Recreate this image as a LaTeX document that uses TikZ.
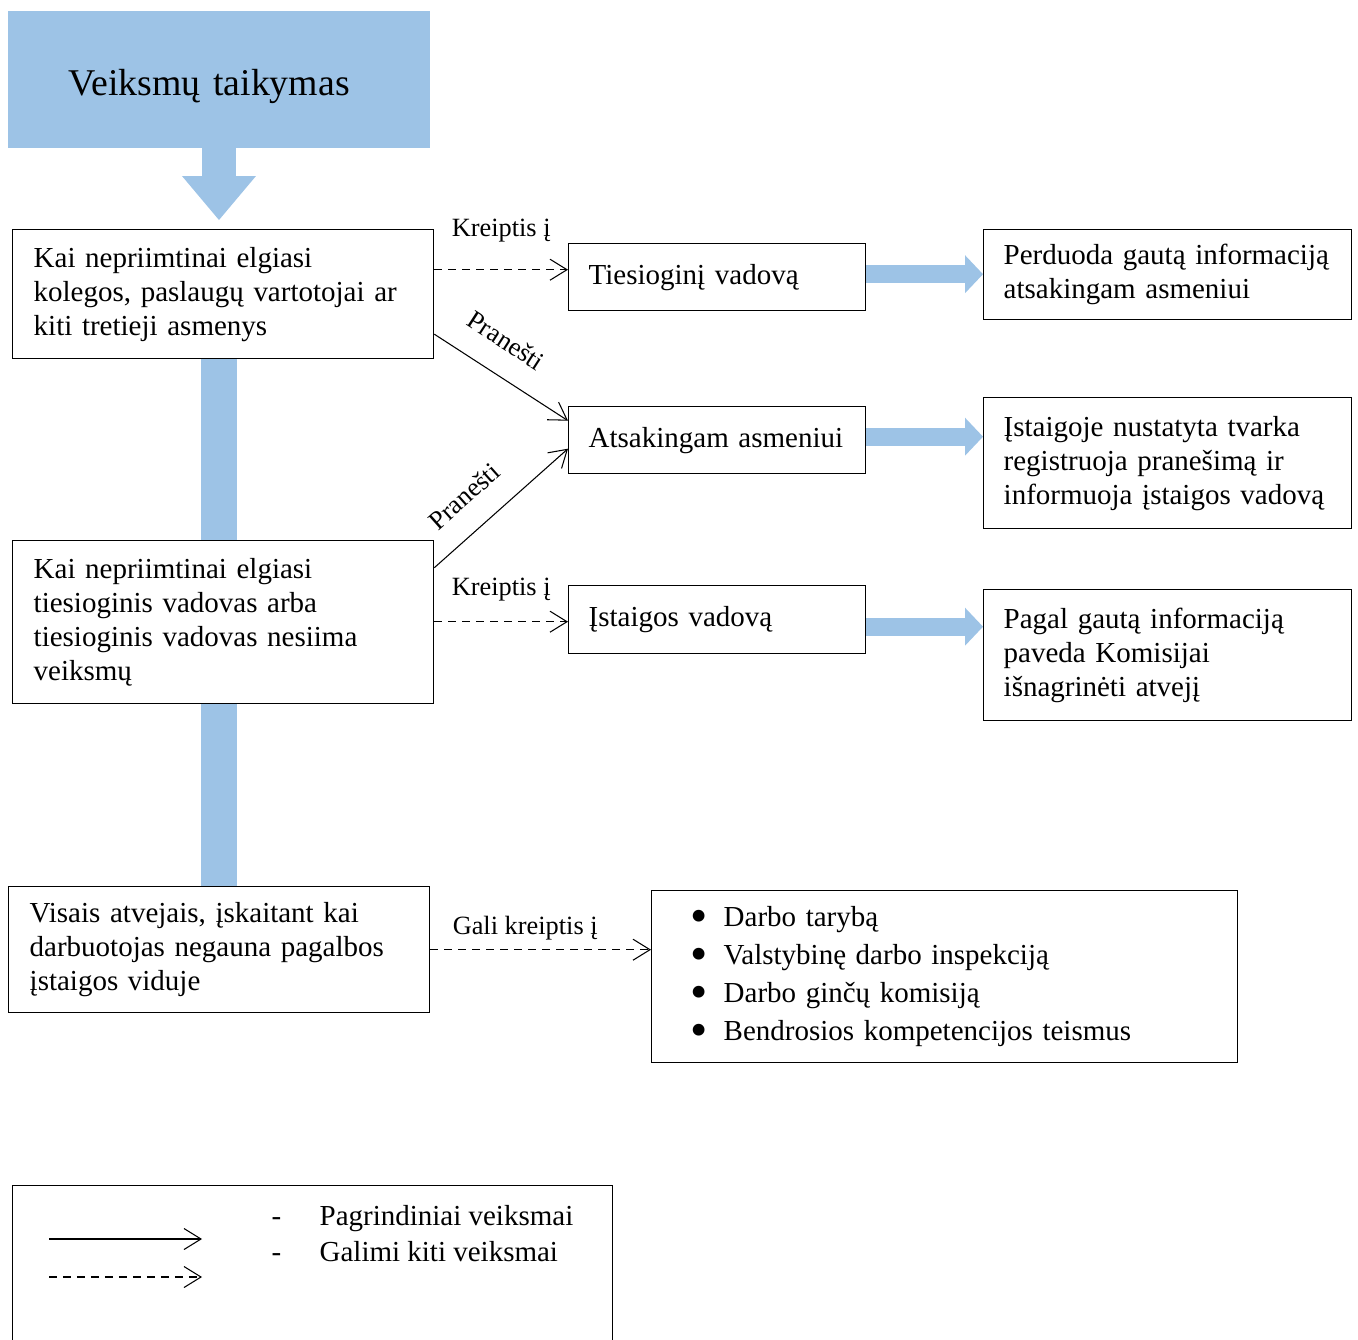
\documentclass[tikz,border=0pt]{standalone}
\usepackage{fontspec}
\setmainfont{Liberation Serif}
\usetikzlibrary{arrows.meta,backgrounds}
\definecolor{blockblue}{RGB}{157,195,230}
\newcommand{\listbullet}{\makebox[0.66cm][l]{\raisebox{-0.2em}{\scalebox{1.7}{\textbullet}}}}

\begin{document}
\begin{tikzpicture}[x=0.02cm, y=-0.02cm, line width=0.6pt,
    >={Straight Barb[length=0.34cm,width=0.42cm]}]
    \useasboundingbox (0,0) rectangle (1358,1339);

    \tikzstyle{box} = [draw, line width=0.8pt, anchor=north west, align=left,
    inner ysep=0pt, font=\fontsize{16.5}{19.3}\selectfont]
    \tikzstyle{cond} = [box, inner xsep=0.42cm, text width=7.58cm]
    \tikzstyle{target} = [box, inner xsep=0.40cm, text width=5.14cm, minimum height=1.34cm]
    \tikzstyle{result} = [box, inner xsep=0.40cm, text width=6.56cm, minimum height=2.62cm]
    \tikzstyle{header} = [fill=blockblue, anchor=north west, align=left,
    inner xsep=1.22cm, text width=6.02cm, minimum height=2.74cm,
    text height=0.66cm, text depth=0pt, font=\fontsize{21.5}{25}\selectfont]
    \tikzstyle{edgelabel} = [font=\fontsize{15}{18}\selectfont, anchor=south, inner xsep=0pt]
    \tikzstyle{pranesti} = [edgelabel, sloped, inner ysep=0.48cm]
    \tikzstyle{possible} = [->, dash pattern=on 0.16cm off 0.12cm]
    \tikzstyle{blockarrow} = [blockblue, line width=0.36cm,
    -{Triangle[length=0.36cm, width=0.76cm, line width=0pt]}]
    \tikzstyle{blockbar} = [blockblue, line width=0.72cm]

    \node [header] (head) at (7,10) {Veiksmų taikymas};

    \node [cond, minimum height=2.58cm] (a1) at (12,229)
    {Kai nepriimtinai elgiasi\\ kolegos, paslaugų vartotojai ar\\ kiti tretieji asmenys};
    \node [cond, minimum height=3.26cm] (a2) at (12,540)
    {Kai nepriimtinai elgiasi\\ tiesioginis vadovas arba\\ tiesioginis vadovas nesiima\\ veiksmų};
    \node [cond, minimum height=2.52cm] (a3) at (8,886)
    {Visais atvejais, įskaitant kai\\ darbuotojas negauna pagalbos\\ įstaigos viduje};

    \node [target] (t) at (568,243) {Tiesioginį vadovą};
    \node [target] (atsak) at (568,406) {Atsakingam asmeniui};
    \node [target, minimum height=1.36cm] (ist) at (568,585) {Įstaigos vadovą};

    \node [result, minimum height=1.80cm] (p1) at (983,229)
    {Perduoda gautą informaciją\\ atsakingam asmeniui};
    \node [result] (p2) at (983,397)
    {Įstaigoje nustatyta tvarka\\ registruoja pranešimą ir\\ informuoja įstaigos vadovą};
    \node [result] (p3) at (983,589)
    {Pagal gautą informaciją\\ paveda Komisijai\\ išnagrinėti atvejį};

    \node [box, inner xsep=0.78cm, text width=10.16cm, minimum height=3.44cm,
    font=\fontsize{16.5}{21.6}\selectfont] (bodies) at (651,890)
    {\listbullet Darbo tarybą\\
     \listbullet Valstybinę darbo inspekciją\\
     \listbullet Darbo ginčų komisiją\\
     \listbullet Bendrosios kompetencijos teismus};

    \begin{scope}[on background layer]
    \draw [blockarrow, line width=0.68cm, shorten >=0.18cm,
    -{Triangle[length=0.88cm, width=1.48cm, line width=0pt]}]
    (head.south) -- (head.south |- a1.north);
    \draw [blockbar] (head.south |- a1.south) -- (head.south |- a2.north);
    \draw [blockbar] (head.south |- a2.south) -- (head.south |- a3.north);
    \draw [blockarrow] ([yshift=0.06cm]t.east) -- ([yshift=0.06cm]t.east -| p1.west);
    \draw [blockarrow] ([yshift=0.07cm]atsak.east) -- ([yshift=0.07cm]atsak.east -| p2.west);
    \draw [blockarrow] ([yshift=-0.14cm]ist.east) -- ([yshift=-0.14cm]ist.east -| p3.west);
    \end{scope}

    \draw [possible] ([yshift=0.15cm]a1.east |- t.west) --
    node [edgelabel, inner ysep=0.54cm] {Kreiptis į} ([yshift=0.15cm]t.west);
    \draw [->] ([yshift=-0.8cm]a1.east) --
    node [pranesti, pos=0.4] {Pranešti} ([yshift=0.39cm]atsak.west);
    \draw [->] ([yshift=1.09cm]a2.east) --
    node [pranesti, pos=0.39] {Pranešti} ([yshift=-0.17cm]atsak.west);
    \draw [possible] ([yshift=-0.04cm]a2.east |- ist.west) --
    node [edgelabel, inner ysep=0.4cm] {Kreiptis į} ([yshift=-0.04cm]ist.west);
    \draw [possible] (a3.east) --
    node [edgelabel, pos=0.43, inner ysep=0.18cm] {Gali kreiptis į} (a3.east -| bodies.west);

    \node [draw, line width=0.8pt, anchor=north west, minimum width=12cm,
    minimum height=3.2cm] (legend) at (12,1185) {};
    \coordinate (solidstart) at (49,1239);
    \coordinate (solidend) at (202,1239);
    \coordinate (dashstart) at (49,1277);
    \coordinate (dashend) at (202,1277);
    \draw [->] (solidstart) -- (solidend);
    \draw [possible] (dashstart) -- (dashend);
    \node [anchor=base west, inner sep=0pt, font=\fontsize{16.5}{20.5}\selectfont]
    (legendtext) at (271,1225)
    {\begin{tabular}[t]{@{}l@{\hspace{0.77cm}}l@{}}
     - & Pagrindiniai veiksmai\\
     - & Galimi kiti veiksmai
     \end{tabular}};
\end{tikzpicture}
\end{document}
